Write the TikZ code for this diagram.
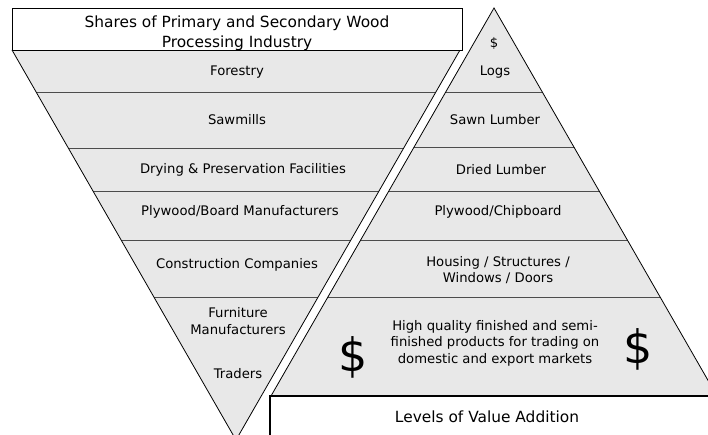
\documentclass[tikz,border=0pt]{standalone}
\usepackage{fontspec}
\setmainfont{DejaVu Sans}
\definecolor{bandgray}{HTML}{E8E8E8}
\newcommand{\LblSize}{\fontsize{13.2}{16.5}\selectfont}

\begin{document}
\begin{tikzpicture}[x=1pt,y=-1pt,
  band/.style={fill=bandgray},
  edge/.style={draw=black, line width=0.8pt},
  sepline/.style={draw=black!70, line width=1pt},
  lbl/.style={font=\LblSize, align=center, inner sep=0pt},
  headlbl/.style={font=\fontsize{15.4}{20}\selectfont, align=center, inner sep=0pt},
  bigdollar/.style={font=\fontsize{46}{46}\selectfont, inner sep=0pt}]

\useasboundingbox (0,0) rectangle (708,435);
\clip (0,0) rectangle (708,435);

% shares: upside down triangle
\coordinate (sTL) at (12,50);
\coordinate (sTR) at (460,50);
\coordinate (sBot) at (236,440);
\fill[band] (sTL) -- (sTR) -- (sBot) -- cycle;
\begin{scope}
\clip (sTL) -- (sTR) -- (sBot) -- cycle;
\foreach \y in {93,149,192,241,297}
  \draw[sepline] (0,\y) -- (470,\y);
\end{scope}
\draw[edge] (sTL) -- (sBot) -- (sTR);

% value addition: upright triangle
\coordinate (vTop) at (494,8);
\coordinate (vBL) at (271,396);
\coordinate (vBR) at (717,396);
\fill[band] (vTop) -- (vBR) -- (vBL) -- cycle;
\begin{scope}
\clip (vTop) -- (vBR) -- (vBL) -- cycle;
\foreach \y in {93,148,192,241,297}
  \draw[sepline] (260,\y) -- (720,\y);
\end{scope}
\draw[edge] (vBL) -- (vTop) -- (vBR);

% title box
\draw[edge, fill=white] (12,8) rectangle (462,50);
\node[headlbl] (title) at (237,33) {Shares of Primary and Secondary Wood\\Processing Industry};

% bottom box
\fill[white] (270,396) rectangle (720,440);
\draw[line width=1.6pt] (270,440) -- (270,396) -- (720,396);
\node[headlbl] (levels) at (487,417) {Levels of Value Addition};

% left labels
\node[lbl] (forestry) at (237,72) {Forestry};
\node[lbl] (sawmills) at (237,120) {Sawmills};
\node[lbl] (drying) at (243,170) {Drying \& Preservation Facilities};
\node[lbl] (board) at (240,212) {Plywood/Board Manufacturers};
\node[lbl] (construction) at (237,265) {Construction Companies};
\node[lbl] (furniture) at (238,321) {Furniture\\Manufacturers};
\node[lbl] (traders) at (238,374) {Traders};

% right labels
\node[lbl] (smalldollar) at (494,43) {\$};
\node[lbl] (logs) at (495,72) {Logs};
\node[lbl] (sawn) at (495,120) {Sawn Lumber};
\node[lbl] (dried) at (501,170) {Dried Lumber};
\node[lbl] (chipboard) at (498,212) {Plywood/Chipboard};
\node[lbl] (housing) at (498,270) {Housing / Structures /\\Windows / Doors};
\node[lbl] (products) at (495,343) {High quality finished and semi-\\finished products for trading on\\domestic and export markets};
\node[bigdollar] (dollarL) at (353,357) {\$};
\node[bigdollar] (dollarR) at (638,349) {\$};

\end{tikzpicture}
\end{document}
